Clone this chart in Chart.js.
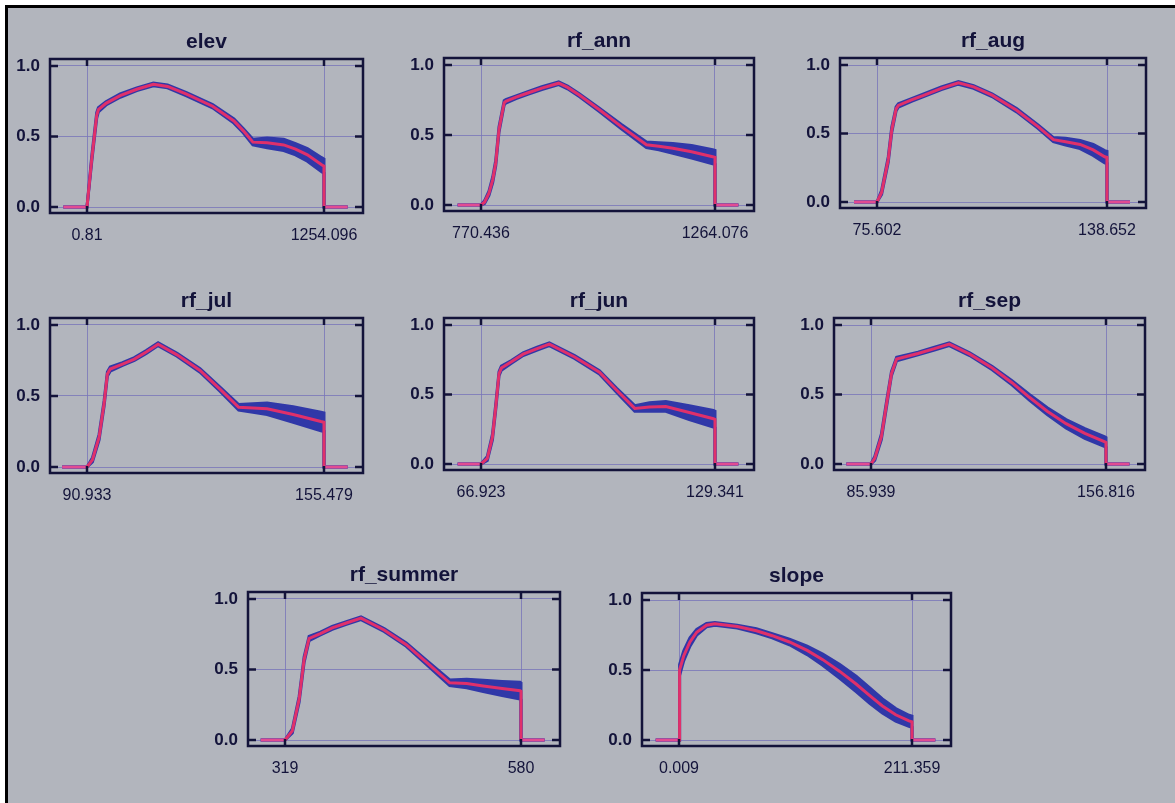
<!DOCTYPE html>
<html lang="en">
<head>
<meta charset="UTF-8">
<title>Response curves</title>
<script src="https://cdn.jsdelivr.net/npm/chart.js"></script>
<style>
  body { margin: 0; background: #fff; overflow: hidden; }
  #frame { position: absolute; left: 5px; top: 5px; width: 1175px; height: 803px;
           background: #b2b5bd; border-left: 3px solid #000; border-top: 3px solid #000; }
  canvas { position: absolute; }
</style>
</head>
<body>
<div id="frame"></div>
<script>
// ---- data (x = position within the variable range, 0 = min, 1 = max) ----
const titles = ['elev', 'rf_ann', 'rf_aug', 'rf_jul', 'rf_jun', 'rf_sep', 'rf_summer', 'slope'];
const xMinLabels = ['0.81', '770.436', '75.602', '90.933', '66.923', '85.939', '319', '0.009'];
const xMaxLabels = ['1254.096', '1264.076', '138.652', '155.479', '129.341', '156.816', '580', '211.359'];
const yTicks = [0, 0.5, 1];

// X = position, Y = mean response, S = half width of the blue band
const elevX = [-0.10, 0, 0.02, 0.041, 0.048, 0.08, 0.14, 0.21, 0.28, 0.34, 0.42, 0.53, 0.62, 0.66, 0.70, 0.76, 0.83, 0.88, 0.93, 0.99, 1.0, 1.0, 1.10];
const elevY = [0, 0, 0.34, 0.65, 0.69, 0.735, 0.79, 0.835, 0.87, 0.855, 0.80, 0.715, 0.61, 0.54, 0.46, 0.455, 0.44, 0.41, 0.37, 0.30, 0.29, 0, 0];
const elevS = [0, 0, 0.02, 0.02, 0.015, 0.012, 0.012, 0.01, 0.01, 0.01, 0.012, 0.012, 0.015, 0.015, 0.02, 0.035, 0.04, 0.04, 0.045, 0.05, 0.05, 0, 0];

const annX = [-0.10, 0, 0.015, 0.034, 0.05, 0.063, 0.077, 0.099, 0.106, 0.15, 0.20, 0.26, 0.332, 0.37, 0.42, 0.506, 0.60, 0.707, 0.76, 0.82, 0.90, 0.99, 1.0, 1.0, 1.10];
const annY = [0, 0, 0.02, 0.084, 0.18, 0.30, 0.54, 0.73, 0.74, 0.77, 0.80, 0.835, 0.87, 0.84, 0.785, 0.68, 0.56, 0.43, 0.42, 0.405, 0.38, 0.345, 0.34, 0, 0];
const annS = [0, 0, 0.01, 0.015, 0.02, 0.02, 0.02, 0.015, 0.012, 0.01, 0.01, 0.01, 0.01, 0.01, 0.01, 0.012, 0.015, 0.02, 0.025, 0.035, 0.045, 0.05, 0.05, 0, 0];

const augX = [-0.10, 0, 0.02, 0.049, 0.064, 0.083, 0.093, 0.15, 0.20, 0.28, 0.354, 0.42, 0.50, 0.607, 0.70, 0.767, 0.82, 0.883, 0.94, 0.99, 1.0, 1.0, 1.10];
const augY = [0, 0, 0.07, 0.31, 0.525, 0.68, 0.705, 0.745, 0.777, 0.83, 0.87, 0.84, 0.78, 0.67, 0.55, 0.455, 0.44, 0.42, 0.38, 0.33, 0.325, 0, 0];
const augS = [0, 0, 0.015, 0.02, 0.02, 0.015, 0.012, 0.01, 0.01, 0.01, 0.01, 0.01, 0.01, 0.012, 0.012, 0.015, 0.025, 0.03, 0.04, 0.045, 0.045, 0, 0];

const julX = [-0.105, 0, 0.023, 0.051, 0.072, 0.086, 0.098, 0.15, 0.20, 0.25, 0.30, 0.38, 0.477, 0.56, 0.64, 0.70, 0.76, 0.87, 0.987, 1.0, 1.0, 1.10];
const julY = [0, 0, 0.05, 0.21, 0.445, 0.655, 0.69, 0.725, 0.76, 0.81, 0.865, 0.79, 0.68, 0.55, 0.42, 0.415, 0.41, 0.37, 0.32, 0.315, 0, 0];
const julS = [0, 0, 0.015, 0.02, 0.02, 0.015, 0.015, 0.01, 0.01, 0.01, 0.01, 0.01, 0.012, 0.015, 0.02, 0.03, 0.04, 0.055, 0.065, 0.065, 0, 0];

const junX = [-0.10, 0, 0.027, 0.049, 0.063, 0.077, 0.087, 0.13, 0.18, 0.24, 0.292, 0.40, 0.506, 0.58, 0.657, 0.72, 0.79, 0.89, 0.993, 1.0, 1.0, 1.10];
const junY = [0, 0, 0.04, 0.195, 0.41, 0.65, 0.69, 0.735, 0.79, 0.83, 0.862, 0.77, 0.66, 0.53, 0.40, 0.41, 0.414, 0.37, 0.326, 0.32, 0, 0];
const junS = [0, 0, 0.015, 0.02, 0.02, 0.015, 0.015, 0.01, 0.01, 0.01, 0.01, 0.01, 0.012, 0.015, 0.02, 0.03, 0.035, 0.05, 0.06, 0.06, 0, 0];

const sepX = [-0.105, 0, 0.016, 0.044, 0.066, 0.087, 0.109, 0.20, 0.27, 0.333, 0.42, 0.516, 0.60, 0.674, 0.75, 0.83, 0.91, 0.995, 1.0, 1.0, 1.10];
const sepY = [0, 0, 0.04, 0.195, 0.43, 0.65, 0.755, 0.795, 0.83, 0.862, 0.79, 0.69, 0.585, 0.48, 0.38, 0.29, 0.22, 0.16, 0.155, 0, 0];
const sepS = [0, 0, 0.015, 0.02, 0.02, 0.015, 0.012, 0.01, 0.01, 0.01, 0.01, 0.012, 0.015, 0.02, 0.025, 0.03, 0.035, 0.035, 0.035, 0, 0];

const summerX = [-0.103, 0, 0.031, 0.06, 0.081, 0.102, 0.15, 0.20, 0.26, 0.322, 0.42, 0.514, 0.60, 0.698, 0.77, 0.84, 0.92, 0.996, 1.0, 1.0, 1.10];
const summerY = [0, 0, 0.065, 0.29, 0.57, 0.72, 0.755, 0.795, 0.83, 0.864, 0.78, 0.676, 0.55, 0.406, 0.40, 0.383, 0.365, 0.35, 0.345, 0, 0];
const summerS = [0, 0, 0.015, 0.02, 0.02, 0.015, 0.01, 0.01, 0.01, 0.01, 0.01, 0.012, 0.015, 0.02, 0.03, 0.04, 0.05, 0.06, 0.06, 0, 0];

const slopeX = [-0.10, 0, 0.001, 0.004, 0.02, 0.047, 0.076, 0.118, 0.154, 0.25, 0.332, 0.40, 0.474, 0.55, 0.617, 0.69, 0.76, 0.82, 0.873, 0.93, 0.987, 1.0, 1.0, 1.10];
const slopeY = [0, 0, 0.2, 0.50, 0.60, 0.70, 0.77, 0.82, 0.83, 0.81, 0.78, 0.745, 0.70, 0.64, 0.574, 0.49, 0.40, 0.315, 0.243, 0.18, 0.137, 0.13, 0, 0];
const slopeS = [0, 0, 0.03, 0.04, 0.035, 0.03, 0.02, 0.012, 0.01, 0.01, 0.015, 0.015, 0.02, 0.03, 0.04, 0.05, 0.055, 0.055, 0.05, 0.045, 0.04, 0.04, 0, 0];

const seriesX = [elevX, annX, augX, julX, junX, sepX, summerX, slopeX];
const seriesY = [elevY, annY, augY, julY, junY, sepY, summerY, slopeY];
const seriesS = [elevS, annS, augS, julS, junS, sepS, summerS, slopeS];

// ---- layout: plot box [left, top, width, height] on the page ----
const boxes = [[50, 59, 313, 154], [444, 58, 310, 153], [840, 58, 306, 150],
               [50, 318, 313, 155], [444, 318, 310, 152], [834, 318, 311, 152],
               [248, 592, 312, 154], [642, 593, 309, 153]];

const ink = '#13133a';
const red = '#e0306a';
const pink = '#e24b92';
const blue = '#3038a8';
const gridCol = 'rgba(120,118,185,0.8)';
const fontName = '"Liberation Sans", Arial, sans-serif';

// box border, inward tick marks and the panel title
const boxPlugin = {
  id: 'box',
  afterDraw(chart) {
    const ctx = chart.ctx, a = chart.chartArea;
    const x = chart.scales.x, y = chart.scales.y;
    const line = (x1, y1, x2, y2) => { ctx.beginPath(); ctx.moveTo(x1, y1); ctx.lineTo(x2, y2); ctx.stroke(); };
    ctx.save();
    ctx.strokeStyle = ink;
    ctx.lineWidth = 2.5;
    ctx.strokeRect(a.left, a.top, a.right - a.left, a.bottom - a.top);
    yTicks.forEach(v => {
      const py = y.getPixelForValue(v);
      line(a.left, py, a.left + 8, py);
      line(a.right - 8, py, a.right, py);
    });
    [0, 1].forEach(v => {
      const px = x.getPixelForValue(v);
      line(px, a.top, px, a.top + 7);
      line(px, a.bottom - 7, px, a.bottom);
    });
    ctx.fillStyle = ink;
    ctx.font = 'bold 21px ' + fontName;
    ctx.textAlign = 'center';
    ctx.textBaseline = 'alphabetic';
    ctx.fillText(chart.options.plugins.box.title, (a.left + a.right) / 2, a.top - 11);
    ctx.restore();
  }
};

function makePanel(i) {
  const [bl, bt, bw, bh] = boxes[i];
  const cv = document.createElement('canvas');
  cv.width = bw + 62;
  cv.height = bh + 80;
  cv.style.left = (bl - 50) + 'px';
  cv.style.top = (bt - 45) + 'px';
  document.body.appendChild(cv);

  const xs = seriesX[i], ys = seriesY[i], ss = seriesS[i];
  const mean = xs.map((v, k) => ({ x: v, y: ys[k] }));
  const upper = xs.map((v, k) => ({ x: v, y: ys[k] + ss[k] }));
  const lower = xs.map((v, k) => ({ x: v, y: ys[k] - ss[k] }));

  const span = bw - 76;
  const unit = bh - 13;

  new Chart(cv, {
    type: 'line',
    data: {
      datasets: [
        { data: mean, borderColor: red, borderWidth: 3, pointRadius: 0, fill: false,
          segment: { borderColor: c => (c.p0.parsed.y === 0 && c.p1.parsed.y === 0) ? pink : red } },
        { data: upper, borderColor: blue, backgroundColor: blue, borderWidth: 3, pointRadius: 0, fill: '+1' },
        { data: lower, borderColor: blue, borderWidth: 3, pointRadius: 0, fill: false }
      ]
    },
    options: {
      responsive: false,
      animation: false,
      events: [],
      layout: { padding: { top: 45, right: 12, left: 0, bottom: 0 } },
      plugins: { legend: { display: false }, tooltip: { enabled: false }, box: { title: titles[i] } },
      scales: {
        x: {
          type: 'linear', min: -37 / span, max: 1 + 39 / span,
          afterBuildTicks: s => { s.ticks = [{ value: 0 }, { value: 1 }]; },
          afterFit: s => { s.height = 35; },
          ticks: { autoSkip: false, maxRotation: 0, padding: 13, color: ink,
                   font: { family: fontName, size: 16 },
                   callback: (v, idx) => idx === 0 ? xMinLabels[i] : xMaxLabels[i] },
          grid: { color: gridCol, lineWidth: 1, drawTicks: false },
          border: { display: false }
        },
        y: {
          min: -6 / unit, max: 1 + 7 / unit,
          afterBuildTicks: s => { s.ticks = yTicks.map(v => ({ value: v })); },
          afterFit: s => { s.width = 50; },
          ticks: { padding: 10, color: ink, font: { family: fontName, size: 17, weight: 'bold' },
                   callback: v => v.toFixed(1) },
          grid: { color: gridCol, lineWidth: 1, drawTicks: false },
          border: { display: false }
        }
      }
    },
    plugins: [boxPlugin]
  });
}

titles.forEach((t, i) => makePanel(i));
</script>
</body>
</html>
